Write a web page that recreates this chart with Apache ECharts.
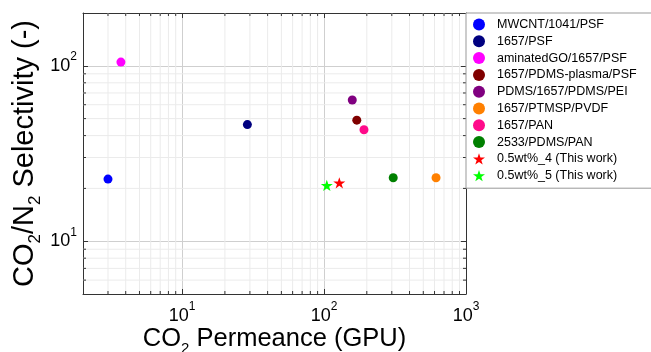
<!DOCTYPE html>
<html>
<head>
<meta charset="utf-8">
<script src="https://cdn.jsdelivr.net/npm/echarts@6/dist/echarts.min.js"></script>
<style>
html,body{margin:0;padding:0;background:#fff;}
#chart{width:651px;height:352px;}
</style>
</head>
<body>
<div id="chart"></div>
<script>
// ---- data ----
const seriesNames = ['MWCNT/1041/PSF','1657/PSF','aminatedGO/1657/PSF','1657/PDMS-plasma/PSF','PDMS/1657/PDMS/PEI','1657/PTMSP/PVDF','1657/PAN','2533/PDMS/PAN','0.5wt%_4 (This work)','0.5wt%_5 (This work)'];
const permeance   = [3.0, 28.8, 3.7, 170, 158, 615, 191, 307, 128, 104.5];
const selectivity = [22.6, 46.2, 105, 49.0, 63.8, 23.0, 43.2, 23.0, 21.5, 20.8];
const xMinorTicks = [3,4,5,6,7,8,9,20,30,40,50,60,70,80,90,200,300,400,500,600,700,800,900];
const yMinorTicks = [6,7,8,9,20,30,40,50,60,70,80,90];
const xRange = [2, 1000];
const yRange = [5, 200];

// ---- style ----
const colors = ['#0000ff','#000080','#ff00ff','#800000','#800080','#ff8000','#ff0a8a','#008000','#ff0000','#00ff00'];
const STAR = 'path://M50,0 L61.8,35.1 L98.9,35.1 L68.8,56.8 L80.3,91.9 L50,70.2 L19.7,91.9 L31.2,56.8 L1.1,35.1 L38.2,35.1 Z';
const symbols = seriesNames.map(n => n.indexOf('This work') >= 0 ? STAR : 'circle');
const FONT = 'Liberation Sans, Arial, sans-serif';
const AXIS_COLOR = '#333';

function powLabel(v) {
  const e = Math.log10(v);
  if (Math.abs(e - Math.round(e)) > 1e-6) return '';
  return '{b|10}{s|' + Math.round(e) + '}';
}
const labelRich = {
  b: {fontSize: 18, fontFamily: FONT, color: '#000', lineHeight: 30},
  s: {fontSize: 12, fontFamily: FONT, color: '#000', lineHeight: 12, verticalAlign: 'top'}
};

const chart = echarts.init(document.getElementById('chart'), null, {renderer: 'canvas'});

const scatterSeries = seriesNames.map((name, i) => ({
  name: name,
  type: 'scatter',
  data: [[permeance[i], selectivity[i]]],
  symbol: symbols[i],
  symbolSize: symbols[i] === 'circle' ? 9 : 12,
  symbolKeepAspect: true,
  itemStyle: {color: colors[i], opacity: 1},
  z: 5
}));

const minorX = {
  type: 'custom',
  silent: true,
  z: 1,
  data: xMinorTicks.map(v => [v, yRange[0]]),
  renderItem: function (params, api) {
    const v = api.value(0);
    const p0 = api.coord([v, yRange[0]]);
    const p1 = api.coord([v, yRange[1]]);
    return {type: 'group', children: [
      {type: 'line', shape: {x1: p0[0], y1: p0[1], x2: p1[0], y2: p1[1]}, style: {stroke: '#ebebeb', lineWidth: 1}},
      {type: 'line', shape: {x1: p0[0], y1: p0[1], x2: p0[0], y2: p0[1] - 3}, style: {stroke: AXIS_COLOR, lineWidth: 1}},
      {type: 'line', shape: {x1: p1[0], y1: p1[1], x2: p1[0], y2: p1[1] + 3}, style: {stroke: AXIS_COLOR, lineWidth: 1}}
    ]};
  }
};
const minorY = {
  type: 'custom',
  silent: true,
  z: 1,
  data: yMinorTicks.map(v => [xRange[0], v]),
  renderItem: function (params, api) {
    const v = api.value(1);
    const p0 = api.coord([xRange[0], v]);
    const p1 = api.coord([xRange[1], v]);
    return {type: 'group', children: [
      {type: 'line', shape: {x1: p0[0], y1: p0[1], x2: p1[0], y2: p1[1]}, style: {stroke: '#ebebeb', lineWidth: 1}},
      {type: 'line', shape: {x1: p0[0], y1: p0[1], x2: p0[0] + 3, y2: p0[1]}, style: {stroke: AXIS_COLOR, lineWidth: 1}},
      {type: 'line', shape: {x1: p1[0], y1: p1[1], x2: p1[0] - 3, y2: p1[1]}, style: {stroke: AXIS_COLOR, lineWidth: 1}}
    ]};
  }
};

const commonAxis = {
  type: 'log',
  logBase: 10,
  nameMoveOverlap: false,
  axisLine: {show: true, onZero: false, lineStyle: {color: AXIS_COLOR, width: 1}},
  axisTick: {show: true, inside: true, length: 5, lineStyle: {color: AXIS_COLOR}},
  minorTick: {show: false},
  minorSplitLine: {show: false}
};

chart.setOption({
  backgroundColor: '#fff',
  animation: false,
  textStyle: {fontFamily: FONT},
  grid: {left: 83, right: 185, top: 13, bottom: 58, containLabel: false, outerBoundsMode: 'none'},
  legend: {
    orient: 'vertical',
    left: 466,
    top: 13,
    data: seriesNames,
    itemWidth: 12,
    itemHeight: 12,
    itemGap: 3.8,
    padding: [5, 30, 6, 7],
    borderColor: '#999',
    borderWidth: 1,
    borderRadius: 0,
    backgroundColor: '#fff',
    symbolKeepAspect: true,
    textStyle: {fontFamily: FONT, fontSize: 12.5, color: '#000', padding: [0, 0, 0, 7]},
    selectedMode: false
  },
  xAxis: [
    Object.assign({}, commonAxis, {
      position: 'bottom',
      min: xRange[0], max: xRange[1],
      splitLine: {show: true, lineStyle: {color: '#cfcfcf', width: 1}},
      axisLabel: {show: true, margin: 7, formatter: powLabel, rich: labelRich},
      name: 'CO{sub|2} Permeance (GPU)',
      nameLocation: 'middle',
      nameGap: 28,
      nameTextStyle: {fontSize: 25.5, fontFamily: FONT, color: '#000', lineHeight: 34,
        rich: {sub: {fontSize: 15, fontFamily: FONT, color: '#000', lineHeight: 12, verticalAlign: 'bottom'}}}
    }),
    Object.assign({}, commonAxis, {
      position: 'top',
      min: xRange[0], max: xRange[1],
      splitLine: {show: false},
      axisLabel: {show: false}
    })
  ],
  yAxis: [
    Object.assign({}, commonAxis, {
      position: 'left',
      min: yRange[0], max: yRange[1],
      splitLine: {show: true, lineStyle: {color: '#cfcfcf', width: 1}},
      axisLabel: {show: true, margin: 6, formatter: powLabel, rich: labelRich},
      name: 'CO{sub|2}/N{sub|2} Selectivity (-)',
      nameLocation: 'middle',
      nameGap: 39,
      nameRotate: 90,
      nameTextStyle: {fontSize: 29, fontFamily: FONT, color: '#000', lineHeight: 38,
        rich: {sub: {fontSize: 17, fontFamily: FONT, color: '#000', lineHeight: 14, verticalAlign: 'bottom'}}}
    }),
    Object.assign({}, commonAxis, {
      position: 'right',
      min: yRange[0], max: yRange[1],
      splitLine: {show: false},
      axisLabel: {show: false}
    })
  ],
  series: [minorX, minorY].concat(scatterSeries)
});
</script>
</body>
</html>
